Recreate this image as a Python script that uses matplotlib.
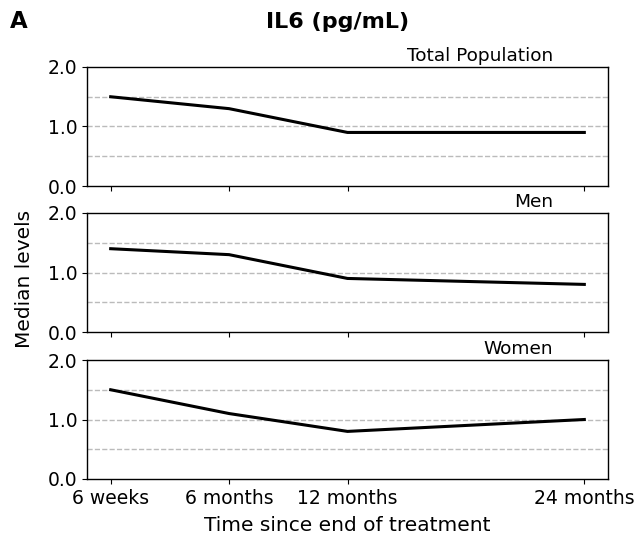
import matplotlib
matplotlib.use("Agg")
import matplotlib.pyplot as plt

# Time points (months since end of treatment; 6 weeks placed at the origin)
time_points = [0, 6, 12, 24]
time_labels = ["6 weeks", "6 months", "12 months", "24 months"]

# Median IL6 levels (pg/mL)
total_population = [1.5, 1.3, 0.9, 0.9]
men = [1.4, 1.3, 0.9, 0.8]
women = [1.5, 1.1, 0.8, 1.0]

panel_titles = ["Total Population", "Men", "Women"]
panel_values = [total_population, men, women]

fig = plt.figure(figsize=(6.37, 5.4), dpi=100)
left, right = 87 / 637, 608 / 637
tops = [67, 213, 360]
height = 119
axes = []
for top in tops:
    ax = fig.add_axes([left, 1 - (top + height) / 540, right - left, height / 540])
    axes.append(ax)

for ax, title, values in zip(axes, panel_titles, panel_values):
    ax.plot(time_points, values, color="black", linewidth=2.2)
    ax.set_ylim(0, 2)
    ax.set_yticks([0, 1, 2])
    ax.set_yticklabels(["0.0", "1.0", "2.0"], fontsize=13.5)
    ax.set_xticks(time_points)
    for yv in [0.5, 1.0, 1.5]:
        ax.axhline(yv, color="#bbbbbb", linestyle="--", linewidth=1, zorder=0)
    ax.text(0.894, 1.02, title, transform=ax.transAxes, ha="right", va="bottom",
            fontsize=13.3)
    for sp in ax.spines.values():
        sp.set_linewidth(1)

for ax in axes[:-1]:
    ax.set_xticklabels([])
axes[-1].set_xticklabels(time_labels, fontsize=13.5)
axes[-1].set_xlabel("Time since end of treatment", fontsize=14.5, labelpad=6)

fig.text(25 / 637, 1 - 279 / 540, "Median levels", rotation=90,
         ha="center", va="center", fontsize=14.5)
fig.text(338 / 637, 1 - 22 / 540, "IL6 (pg/mL)", ha="center", va="center",
         fontsize=16, fontweight="bold")
fig.text(10 / 637, 1 - 22 / 540, "A", ha="left", va="center", fontsize=16.5,
         fontweight="bold")

fig.savefig("out.png", dpi=100)
